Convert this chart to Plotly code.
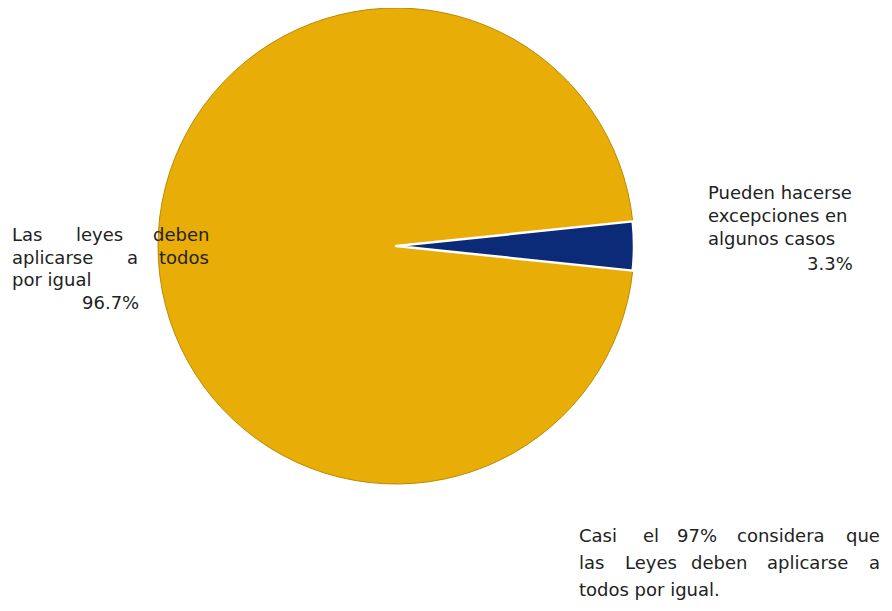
import plotly.graph_objects as go

labels = ["Las leyes deben aplicarse a todos por igual", "Pueden hacerse excepciones en algunos casos"]
values = [96.7, 3.3]
colors = ["#E9AD08", "#0B2A78"]

left_lines = ["Las leyes deben", "aplicarse a todos", "por igual"]
left_pct = "96.7%"
right_lines = ["Pueden hacerse", "excepciones en", "algunos casos"]
right_pct = "3.3%"
note_lines = ["Casi el 97% considera que", "las Leyes deben aplicarse a", "todos por igual."]

OFF = 8  # default page body margin
W, H = 892 - 2 * OFF, 611 - 2 * OFF
cx, cy, r = 388, 238, 238  # in figure pixels

fig = go.Figure(go.Pie(
    labels=labels, values=values, sort=False, direction="clockwise",
    rotation=90 + values[1] / 100 * 360 / 2,
    marker=dict(colors=colors, line=dict(color=["#B88A00", "white"], width=[1, 2.5])),
    textinfo="none", hoverinfo="label+percent", showlegend=False,
    domain=dict(x=[(cx - r) / W, (cx + r) / W], y=[max(0, (H - cy - r) / H), min(1, (H - cy + r) / H)]),
))

FS = 18
CW = FS * 0.6
font = dict(family="DejaVu Sans, Verdana, sans-serif", size=FS, color="#222222")
ann = []

def add_text(text, x, y, anchor="left"):
    ann.append(dict(text=text, x=(x - OFF) / W, y=1 - (y - OFF) / H, xref="paper", yref="paper",
                    xanchor=anchor, yanchor="middle", showarrow=False, font=font, borderpad=0))

def justify(line, x0, x1, y):
    words = line.split(" ")
    widths = [len(w) * CW for w in words]
    gap = (x1 - x0 - sum(widths)) / (len(words) - 1)
    pos = x0
    for i, (w, wd) in enumerate(zip(words, widths)):
        if i == 0:
            add_text(w, x0, y, "left")
        elif i == len(words) - 1:
            add_text(w, x1, y, "right")
        else:
            add_text(w, pos + wd / 2, y, "center")
        pos += wd + gap

for i, t in enumerate(left_lines):
    if i < len(left_lines) - 1:
        justify(t, 11, 210, 234 + 23 * i)
    else:
        add_text(t, 11, 234 + 23 * i)
add_text(left_pct, 110, 302, "center")
for i, t in enumerate(right_lines):
    add_text(t, 707, 192 + 23.5 * i)
add_text(right_pct, 830, 263, "center")
for i, t in enumerate(note_lines):
    if i < len(note_lines) - 1:
        justify(t, 578, 881, 535 + 27 * i)
    else:
        add_text(t, 578, 535 + 27 * i)

fig.update_layout(width=W, height=H, margin=dict(l=0, r=0, t=0, b=0),
                  paper_bgcolor="white", plot_bgcolor="white", annotations=ann)
fig.write_html("out.html")
